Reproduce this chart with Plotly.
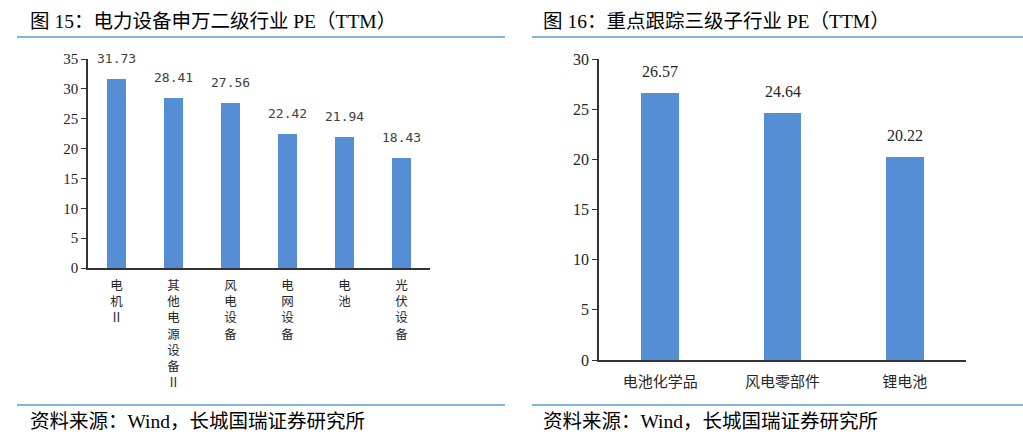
import re
import plotly.graph_objects as go

# ---- data ----
left_categories = ["电机II", "其他电源设备II", "风电设备", "电网设备", "电池", "光伏设备"]
left_values = [31.73, 28.41, 27.56, 22.42, 21.94, 18.43]
left_yticks = [0, 5, 10, 15, 20, 25, 30, 35]

right_categories = ["电池化学品", "风电零部件", "锂电池"]
right_values = [26.57, 24.64, 20.22]
right_yticks = [0, 5, 10, 15, 20, 25, 30]

left_title = "图 15：电力设备申万二级行业 PE（TTM）"
right_title = "图 16：重点跟踪三级子行业 PE（TTM）"
source_text = "资料来源：Wind，长城国瑞证券研究所"

W, H = 1023, 446
BAR = "#558ed5"
LINE = "#5b9bd5"
SERIF = "Liberation Serif, Times New Roman, Noto Sans CJK SC"
SANS = "Noto Sans CJK SC, Noto Sans, sans-serif"


def px_x(v):
    return v / W


def px_y(v):
    return 1 - v / H


def vertical(label):
    parts = re.findall(r"[A-Za-z]+|.", label)
    return "<br>".join(parts)


fig = go.Figure()
fig.add_trace(go.Bar(x=left_categories, y=left_values, marker=dict(color=BAR, line=dict(width=0)),
                     width=0.32, xaxis="x", yaxis="y", showlegend=False, hoverinfo="x+y"))
fig.add_trace(go.Bar(x=right_categories, y=right_values, marker=dict(color=BAR, line=dict(width=0)),
                     width=0.31, xaxis="x2", yaxis="y2", showlegend=False, hoverinfo="x+y"))

annotations = []
for c, v in zip(left_categories, left_values):
    annotations.append(dict(x=c, y=v, xref="x", yref="y", text=f"{v:.2f}", showarrow=False,
                            yanchor="bottom", yshift=11,
                            font=dict(family="DejaVu Sans Mono, monospace", size=13, color="#404040")))
for c, v in zip(right_categories, right_values):
    annotations.append(dict(x=c, y=v, xref="x2", yref="y2", text=f"{v:.2f}", showarrow=False,
                            yanchor="bottom", yshift=11,
                            font=dict(family=SERIF, size=16, color="#262626")))

# titles and source
for x0, t in [(28, left_title), (541, right_title)]:
    annotations.append(dict(x=px_x(x0), y=px_y(21), xref="paper", yref="paper", text=t, showarrow=False,
                            xanchor="left", yanchor="middle",
                            font=dict(family=SERIF, size=19.5, color="#000000")))
for x0 in [28, 541]:
    annotations.append(dict(x=px_x(x0), y=px_y(421), xref="paper", yref="paper", text=source_text,
                            showarrow=False, xanchor="left", yanchor="middle",
                            font=dict(family=SERIF, size=19.5, color="#000000")))

shapes = []
for (xa, xb) in [(17, 505), (532, 1023)]:
    for yy in [37, 405]:
        shapes.append(dict(type="line", xref="paper", yref="paper", x0=px_x(xa), x1=px_x(xb),
                           y0=px_y(yy), y1=px_y(yy), line=dict(color=LINE, width=1.5)))

axis_common = dict(showgrid=False, zeroline=False, showline=True, linecolor="#333333",
                   linewidth=1.5, automargin=False)

fig.update_layout(
    width=W, height=H,
    margin=dict(l=0, r=0, t=0, b=0, autoexpand=False),
    paper_bgcolor="white", plot_bgcolor="white",
    bargap=0,
    xaxis=dict(domain=[px_x(88), px_x(430)], anchor="y", **axis_common,
               tickmode="array", tickvals=left_categories,
               ticktext=[vertical(c) for c in left_categories], tickangle=0,
               ticks="", ticklabelstandoff=5,
               tickfont=dict(family=SANS, size=12.5, color="#262626")),
    yaxis=dict(domain=[px_y(268), px_y(59)], anchor="x", range=[0, 35], **axis_common,
               tickmode="array", tickvals=left_yticks, ticks="outside", ticklen=5,
               tickcolor="#333333", tickwidth=1.2,
               tickfont=dict(family=SERIF, size=15, color="#262626")),
    xaxis2=dict(domain=[px_x(599), px_x(966)], anchor="y2", **axis_common,
                ticks="", ticklabelstandoff=7,
                tickfont=dict(family=SANS, size=15, color="#262626")),
    yaxis2=dict(domain=[px_y(360), px_y(59)], anchor="x2", range=[0, 30], **axis_common,
                tickmode="array", tickvals=right_yticks, ticks="outside", ticklen=5,
                tickcolor="#333333", tickwidth=1.2,
                tickfont=dict(family=SERIF, size=16, color="#262626")),
    annotations=annotations,
    shapes=shapes,
)

fig.write_html("out.html", config={"displayModeBar": False},
               post_script="document.body.style.margin='0';document.body.style.overflow='hidden';")
